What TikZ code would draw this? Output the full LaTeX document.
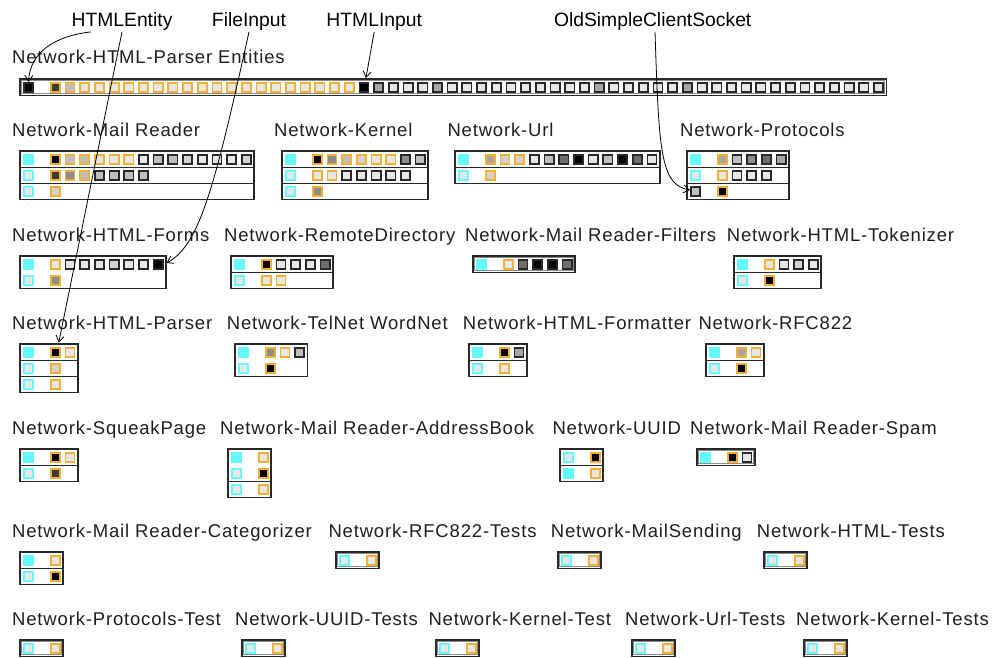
\documentclass[tikz,border=0pt]{standalone}
\usepackage{fontspec}
\setmainfont{Liberation Sans}
\newfontfamily\pkgfont[LetterSpace=4.5]{Liberation Sans}
\usetikzlibrary{arrows.meta}

% palette
\definecolor{cy}{RGB}{100,250,255}
\definecolor{bo}{RGB}{245,176,52}
\definecolor{bd}{RGB}{40,40,40}
\definecolor{k0}{RGB}{0,0,0}
\definecolor{k1}{RGB}{60,60,60}
\definecolor{k2}{RGB}{110,110,110}
\definecolor{k3}{RGB}{140,140,140}
\definecolor{k4}{RGB}{166,166,166}
\definecolor{k5}{RGB}{190,190,190}
\definecolor{k6}{RGB}{210,210,210}
\definecolor{k7}{RGB}{230,230,230}

\tikzset{
  cell/.style={rectangle, inner sep=0pt, minimum size=9.2pt, line width=1.7pt},
  boxline/.style={draw=bd, line width=1.7pt},
  innerline/.style={draw=black!45, line width=1pt},
  pkglabel/.style={anchor=base west, inner sep=0pt, text=black!88,
    font=\pkgfont\fontsize{18.5}{20}\selectfont},
  callout/.style={anchor=base, inner sep=0pt, text depth=5pt,
    font=\fontsize{19.3}{21}\selectfont},
  pointer/.style={draw=black, line width=0.8pt,
    -{Straight Barb[length=6pt,width=8pt]}},
}

% frame of a package: #1 left, #2 top, #3 mark columns, #4 rows
\newcommand\pkgframe[4]{%
  \draw[boxline] (#1,#2) rectangle (#1+28.5+14.7*#3,#2+16*#4+0.5);}
% single-row package with a doubled frame
\newcommand\pkgsingle[3]{%
  \draw[boxline] (#1,#2) rectangle (#1+28.5+14.7*#3,#2+16.5);
  \draw[innerline] (#1+1.7,#2+1.7) rectangle (#1+26.8+14.7*#3,#2+14.8);}
% separator under row #4
\newcommand\pkgsep[4]{%
  \draw[boxline] (#1,#2+16*#4+0.5) -- (#1+28.5+14.7*#3,#2+16*#4+0.5);}
% one row: #1 id, #2 left, #3 top, #4 row, #5/#6 head cell draw/fill, #7 marks
\newcommand\pkgrow[7]{%
  \node[cell, draw=#5, fill=#6] (#1-#4-h) at (#2+8.5,#3+8.5+16*#4) {};
  \foreach \bc/\fc [count=\k from 0] in {#7} {
    \node[cell, draw=\bc, fill=\fc] (#1-#4-\k) at (#2+35.25+14.7*\k,#3+8.5+16*#4) {};
  }}

\begin{document}
\begin{tikzpicture}[x=1pt,y=-1pt]
\fill[white] (0,0) rectangle (993,658);
\useasboundingbox (0,0) rectangle (993,658);

% ---------- package names ----------
\node[pkglabel] (l-ent) at (12,63.5) {Network-HTML-Parser Entities};

\node[pkglabel] (l-mr) at (12,136.5) {Network-Mail Reader};
\node[pkglabel] (l-ker) at (274,136.5) {Network-Kernel};
\node[pkglabel] (l-url) at (447.3,136.5) {Network-Url};
\node[pkglabel] (l-pro) at (680,136.5) {Network-Protocols};

\node[pkglabel] (l-frm) at (12,241) {Network-HTML-Forms};
\node[pkglabel] (l-rd) at (224,241) {Network-RemoteDirectory};
\node[pkglabel] (l-fil) at (465,241) {Network-Mail Reader-Filters};
\node[pkglabel] (l-tok) at (726.7,241) {Network-HTML-Tokenizer};

\node[pkglabel] (l-hp) at (12,329) {Network-HTML-Parser};
\node[pkglabel] (l-tel) at (226.7,329) {Network-TelNet WordNet};
\node[pkglabel] (l-fmt) at (462.7,329) {Network-HTML-Formatter};
\node[pkglabel] (l-rfc) at (698.3,329) {Network-RFC822};

\node[pkglabel] (l-sq) at (12,434) {Network-SqueakPage};
\node[pkglabel] (l-ab) at (220,434) {Network-Mail Reader-AddressBook};
\node[pkglabel] (l-uu) at (552.3,434) {Network-UUID};
\node[pkglabel] (l-sp) at (690,434) {Network-Mail Reader-Spam};

\node[pkglabel] (l-cat) at (12,537.3) {Network-Mail Reader-Categorizer};
\node[pkglabel] (l-rft) at (328.3,537.3) {Network-RFC822-Tests};
\node[pkglabel] (l-ms) at (550.7,537.3) {Network-MailSending};
\node[pkglabel] (l-ht) at (756.7,537.3) {Network-HTML-Tests};

\node[pkglabel] (l-pt) at (12,625) {Network-Protocols-Test};
\node[pkglabel] (l-ut) at (235,625) {Network-UUID-Tests};
\node[pkglabel] (l-kt) at (428.3,625) {Network-Kernel-Test};
\node[pkglabel] (l-urt) at (625,625) {Network-Url-Tests};
\node[pkglabel] (l-kts) at (796,625) {Network-Kernel-Tests};

% ---------- packages ----------
% Network-HTML-Parser Entities
\pkgsingle{20}{79}{57}
\pkgrow{ent}{20}{79}{0}{bd}{k0}{bo/k1, bo/k5,
  bo/k7, bo/k7, bo/k7, bo/k7, bo/k7, bo/k7, bo/k7, bo/k7, bo/k7, bo/k7,
  bo/k7, bo/k7, bo/k7, bo/k7, bo/k7, bo/k7, bo/k7, bo/k7, bo/k7,
  bd/k0, bd/k4, bd/k7, bd/k7, bd/k7, bd/k4,
  bd/k7, bd/k7, bd/k7, bd/k7, bd/k7, bd/k7, bd/k7, bd/k7, bd/k7, bd/k7,
  bd/k4, bd/k7, bd/k7, bd/k7, bd/k7, bd/k7, bd/k4,
  bd/k7, bd/k7, bd/k7, bd/k7, bd/k7, bd/k7, bd/k7, bd/k7, bd/k7, bd/k7,
  bd/k7, bd/k7, bd/k7}

% Network-Mail Reader
\pkgframe{20}{151}{14}{3}
\pkgsep{20}{151}{14}{1}
\pkgsep{20}{151}{14}{2}
\pkgrow{mr}{20}{151}{0}{cy}{cy}{bo/k0, bo/k5, bo/k5, bo/k7, bo/k7, bo/k7,
  bd/k7, bd/k5, bd/k5, bd/k6, bd/k7, bd/k7, bd/k7, bd/k6}
\pkgrow{mr}{20}{151}{1}{cy}{k7}{bo/k1, bo/k3, bo/k5, bd/k5, bd/k5, bd/k5, bd/k5}
\pkgrow{mr}{20}{151}{2}{cy}{k7}{bo/k6}

% Network-Kernel
\pkgframe{282}{151}{8}{3}
\pkgsep{282}{151}{8}{1}
\pkgsep{282}{151}{8}{2}
\pkgrow{ker}{282}{151}{0}{cy}{cy}{bo/k0, bo/k3, bo/k5, bo/k6, bo/k7, bo/k7, bd/k3, bd/k5}
\pkgrow{ker}{282}{151}{1}{cy}{k7}{bo/k7, bo/k7, bd/k7, bd/k7, bd/k7, bd/k7, bd/k7}
\pkgrow{ker}{282}{151}{2}{cy}{k7}{bo/k3}

% Network-Url
\pkgframe{455}{151}{12}{2}
\pkgsep{455}{151}{12}{1}
\pkgrow{url}{455}{151}{0}{cy}{cy}{bo/k4, bo/k6, bo/k6, bd/k7, bd/k5, bd/k2,
  bd/k0, bd/k7, bd/k5, bd/k0, bd/k2, bd/k7}
\pkgrow{url}{455}{151}{1}{cy}{k7}{bo/k6}

% Network-Protocols
\pkgframe{687}{151}{5}{3}
\pkgsep{687}{151}{5}{1}
\pkgsep{687}{151}{5}{2}
\pkgrow{pro}{687}{151}{0}{cy}{cy}{bo/k4, bd/k5, bd/k3, bd/k2, bd/k4}
\pkgrow{pro}{687}{151}{1}{cy}{k7}{bo/k7, bd/k7, bd/k7, bd/k7}
\pkgrow{pro}{687}{151}{2}{bd}{k5}{bo/k0}

% Network-HTML-Forms
\pkgframe{20}{256}{8}{2}
\pkgrow{frm}{20}{256}{0}{cy}{cy}{bo/k7, bd/k7, bd/k7, bd/k7, bd/k6, bd/k7, bd/k7, bd/k0}
\pkgrow{frm}{20}{256}{1}{cy}{k7}{bo/k3}

% Network-RemoteDirectory
\pkgframe{231}{256}{5}{2}
\pkgsep{231}{256}{5}{1}
\pkgrow{rd}{231}{256}{0}{cy}{cy}{bo/k0, bd/k7, bd/k7, bd/k7, bd/k2}
\pkgrow{rd}{231}{256}{1}{cy}{k7}{bo/k7, bo/k7}

% Network-Mail Reader-Filters
\pkgsingle{473}{256}{5}
\pkgrow{fil}{473}{256}{0}{cy}{cy}{bo/k7, bd/k2, bd/k0, bd/k0, bd/k2}

% Network-HTML-Tokenizer
\pkgframe{734}{256}{4}{2}
\pkgsep{734}{256}{4}{1}
\pkgrow{tok}{734}{256}{0}{cy}{cy}{bo/k7, bd/k7, bd/k6, bd/k7}
\pkgrow{tok}{734}{256}{1}{cy}{k7}{bo/k0}

% Network-HTML-Parser
\pkgframe{20}{344}{2}{3}
\pkgsep{20}{344}{2}{1}
\pkgsep{20}{344}{2}{2}
\pkgrow{hp}{20}{344}{0}{cy}{cy}{bo/k0, bo/k7}
\pkgrow{hp}{20}{344}{1}{cy}{k7}{bo/k6}
\pkgrow{hp}{20}{344}{2}{cy}{k7}{bo/k7}

% Network-TelNet WordNet
\pkgframe{235}{344}{3}{2}
\pkgrow{tel}{235}{344}{0}{cy}{cy}{bo/k3, bo/k7, bd/k5}
\pkgrow{tel}{235}{344}{1}{cy}{k7}{bo/k0}

% Network-HTML-Formatter
\pkgframe{469}{344}{2}{2}
\pkgsep{469}{344}{2}{1}
\pkgrow{fmt}{469}{344}{0}{cy}{cy}{bo/k0, bd/k4}
\pkgrow{fmt}{469}{344}{1}{cy}{k7}{bo/k7}

% Network-RFC822
\pkgframe{706}{344}{2}{2}
\pkgsep{706}{344}{2}{1}
\pkgrow{rfc}{706}{344}{0}{cy}{cy}{bo/k4, bo/k7}
\pkgrow{rfc}{706}{344}{1}{cy}{k7}{bo/k0}

% Network-SqueakPage
\pkgframe{20}{449}{2}{2}
\pkgsep{20}{449}{2}{1}
\pkgrow{sq}{20}{449}{0}{cy}{cy}{bo/k0, bo/k7}
\pkgrow{sq}{20}{449}{1}{cy}{k7}{bo/k1}

% Network-Mail Reader-AddressBook
\pkgframe{228}{449}{1}{3}
\pkgsep{228}{449}{1}{2}
\pkgrow{ab}{228}{449}{0}{cy}{cy}{bo/k7}
\pkgrow{ab}{228}{449}{1}{cy}{k7}{bo/k0}
\pkgrow{ab}{228}{449}{2}{cy}{k7}{bo/k7}

% Network-UUID
\pkgframe{560}{449}{1}{2}
\pkgsep{560}{449}{1}{1}
\pkgrow{uu}{560}{449}{0}{cy}{k7}{bo/k0}
\pkgrow{uu}{560}{449}{1}{cy}{cy}{bo/k7}

% Network-Mail Reader-Spam
\pkgsingle{697}{449}{2}
\pkgrow{sp}{697}{449}{0}{cy}{cy}{bo/k0, bd/k7}

% Network-Mail Reader-Categorizer
\pkgframe{20}{552}{1}{2}
\pkgsep{20}{552}{1}{1}
\pkgrow{cat}{20}{552}{0}{cy}{cy}{bo/k7}
\pkgrow{cat}{20}{552}{1}{cy}{k7}{bo/k0}

% test packages
\pkgsingle{336}{552}{1}
\pkgrow{rft}{336}{552}{0}{cy}{k7}{bo/k7}
\pkgsingle{558}{552}{1}
\pkgrow{ms}{558}{552}{0}{cy}{k7}{bo/k7}
\pkgsingle{764}{552}{1}
\pkgrow{ht}{764}{552}{0}{cy}{k7}{bo/k7}

\pkgsingle{20}{640}{1}
\pkgrow{pt}{20}{640}{0}{cy}{k7}{bo/k7}
\pkgsingle{242}{640}{1}
\pkgrow{ut}{242}{640}{0}{cy}{k7}{bo/k7}
\pkgsingle{436}{640}{1}
\pkgrow{kt}{436}{640}{0}{cy}{k7}{bo/k7}
\pkgsingle{632}{640}{1}
\pkgrow{urt}{632}{640}{0}{cy}{k7}{bo/k7}
\pkgsingle{804}{640}{1}
\pkgrow{kts}{804}{640}{0}{cy}{k7}{bo/k7}

% ---------- class callouts ----------
\node[callout] (htmlentity) at (122,26.7) {HTMLEntity};
\node[callout] (fileinput) at (249,26.7) {FileInput};
\node[callout] (htmlinput) at (374.2,26.7) {HTMLInput};
\node[callout] (oldsocket) at (652.7,26.7) {OldSimpleClientSocket};

\draw[pointer] ([xshift=-31pt]htmlentity.south)
  .. controls (55,36) and (30,52) .. (ent-0-h.north);
\draw[pointer] (htmlentity.south) -- ([xshift=3.5pt,yshift=4.5pt]hp-0-0.north);
\draw[pointer] (fileinput.south)
  .. controls (215,185) and (200,245) .. ([xshift=3pt,yshift=1.5pt]frm-0-7.east);
\draw[pointer] (htmlinput.south) -- ([xshift=2pt,yshift=4pt]ent-0-21.north);
\draw[pointer] ([xshift=2.3pt]oldsocket.south)
  .. controls (659,150) and (660,185) .. ([yshift=1.5pt]pro-2-h.west);
\end{tikzpicture}
\end{document}
